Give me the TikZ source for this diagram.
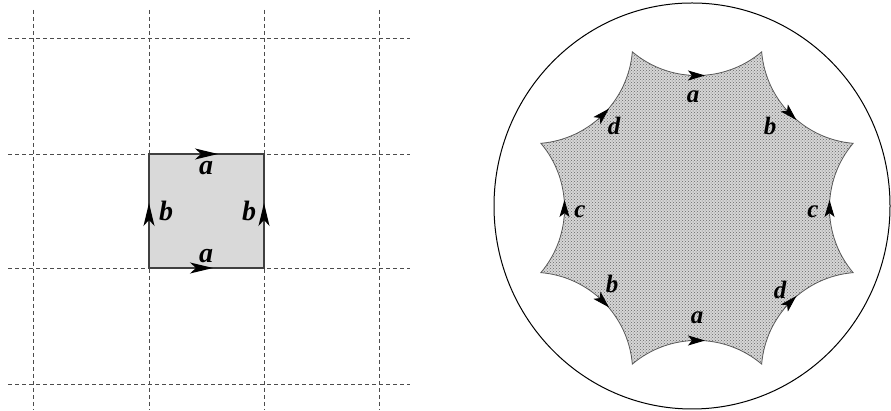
\documentclass[tikz,border=0pt]{standalone}
\usepackage{fontspec}
\setmainfont{Liberation Serif}
\usetikzlibrary{arrows.meta,patterns,calc}
\begin{document}
\begin{tikzpicture}[x=1pt,y=1pt,
  gridline/.style={draw=black!70,line width=0.8pt,dash pattern=on 4pt off 3pt},
  sqbox/.style={draw=black!75,line width=1.3pt,fill=black!15},
  sqarrow/.style={draw=black!75,line width=1.3pt,-{Stealth[length=23pt,width=11pt,inset=6pt,color=black,fill=black]}},
  lbl/.style={inner sep=0pt,font=\fontsize{28}{32}\selectfont\bfseries\itshape},
  olbl/.style={inner sep=0pt,font=\fontsize{25}{29}\selectfont\bfseries\itshape},
  octfill/.style={draw=black!65,line width=0.8pt,preaction={fill=black!16},pattern=crosshatch dots,pattern color=black!60},
  octarrow/.style={draw=black!65,line width=0.8pt,-{Stealth[length=17pt,width=10pt,inset=4pt,color=black,fill=black]}},
  disk/.style={draw=black,line width=1pt}]
\useasboundingbox (0,0) rectangle (891,411);
% ---------- left: grid ----------
\foreach \x in {33,149,264,379} \draw[gridline] (\x,401) -- (\x,1);
\foreach \y in {373,257,143,27} \draw[gridline] (8,\y) -- (410,\y);
\coordinate (sqSW) at (149,143);
\coordinate (sqNE) at (264,257);
\draw[sqbox] (sqSW) rectangle (sqNE);
\coordinate (ta0) at (195,257); \coordinate (ta1) at (218,257);
\coordinate (ba0) at (190,143); \coordinate (ba1) at (213,143);
\coordinate (lb0) at (149,185); \coordinate (lb1) at (149,208);
\coordinate (rb0) at (264,185); \coordinate (rb1) at (264,208);
\draw[sqarrow] (ta0) -- (ta1);
\draw[sqarrow] (ba0) -- (ba1);
\draw[sqarrow] (lb0) -- (lb1);
\draw[sqarrow] (rb0) -- (rb1);
\node[lbl] (la1) at (206,243) {a};
\node[lbl] (la2) at (206,155) {a};
\node[lbl] (lb) at (166,200) {b};
\node[lbl] (rb) at (249,200) {b};
% ---------- right: disk and octagon ----------
\coordinate (D) at (692,205);
\draw[disk] (D) ellipse [x radius=198, y radius=203];
\coordinate (O) at (697,203);
\path[octfill] ($(O)+(112.5:169)$)
  arc[start angle=-130.16, end angle=-49.84, radius=100.27pt]
  arc[start angle=-175.16, end angle=-94.84, radius=100.27pt]
  arc[start angle=-220.16, end angle=-139.84, radius=100.27pt]
  arc[start angle=-265.16, end angle=-184.84, radius=100.27pt]
  arc[start angle=-310.16, end angle=-229.84, radius=100.27pt]
  arc[start angle=-355.16, end angle=-274.84, radius=100.27pt]
  arc[start angle=-400.16, end angle=-319.84, radius=100.27pt]
  arc[start angle=-445.16, end angle=-364.84, radius=100.27pt]
  -- cycle;
\foreach \t/\d in {90/0,45/-45,0/90,-45/45,-90/0,-135/-45,180/90,135/45} {
  \coordinate (m) at ($(O)+(\t:132.5)$);
  \draw[octarrow] ($(m)+(\d:-8)$) -- ($(m)+(\d:8)$);
}
\node[olbl] (oa1) at (693,314) {a};
\node[olbl] (ob1) at (770,285) {b};
\node[olbl] (oc1) at (813,199) {c};
\node[olbl] (od1) at (780,121) {d};
\node[olbl] (oa2) at (697,93) {a};
\node[olbl] (ob2) at (612,127) {b};
\node[olbl] (oc2) at (580,199) {c};
\node[olbl] (od2) at (614,285) {d};
\end{tikzpicture}
\end{document}
